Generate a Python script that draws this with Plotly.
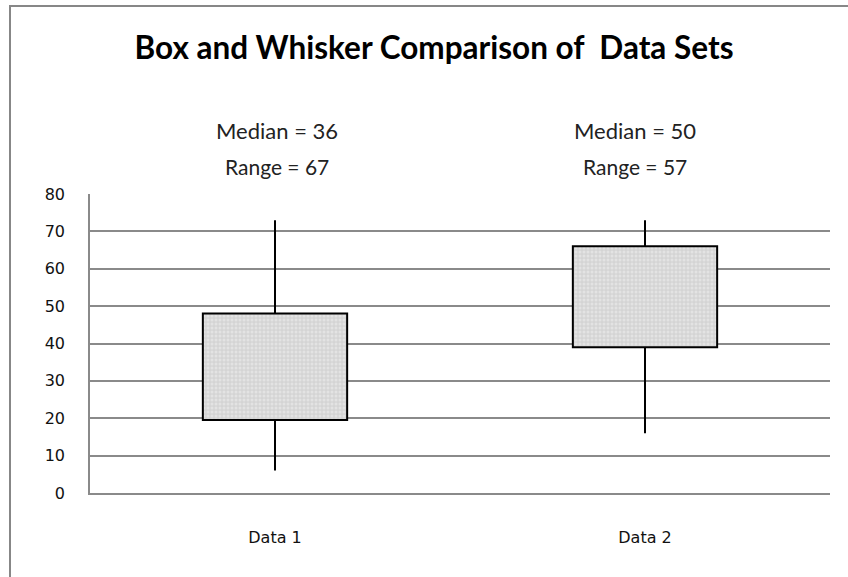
import plotly.graph_objects as go

categories = ["Data 1", "Data 2"]
mins = [6, 16]
q1s = [19.5, 39]
q3s = [48, 66]
maxs = [73, 73]
medians = [36, 50]
y_ticks = [0, 10, 20, 30, 40, 50, 60, 70, 80]

fig = go.Figure()

# boxes
fig.add_trace(go.Bar(
    x=categories,
    y=[q3 - q1 for q1, q3 in zip(q1s, q3s)],
    base=q1s,
    width=0.39,
    marker=dict(
        color="#d6d6d6",
        line=dict(color="black", width=2),
        pattern=dict(shape=".", fgcolor="#f2f2f2", bgcolor="#d4d4d4", size=4, solidity=0.45),
    ),
    showlegend=False,
    hoverinfo="skip",
))

# whiskers
wx, wy = [], []
for c, lo, a, b, hi in zip(categories, mins, q1s, q3s, maxs):
    wx += [c, c, None, c, c, None]
    wy += [lo, a, None, b, hi, None]
fig.add_trace(go.Scatter(
    x=wx, y=wy, mode="lines",
    line=dict(color="black", width=2),
    showlegend=False, hoverinfo="skip",
))

annotations = []
for c, m, lo, hi, dx in zip(categories, medians, mins, maxs, [2, -10]):
    annotations.append(dict(
        x=c, y=(493 - 131) / 299, xref="x", yref="paper", xshift=dx,
        yanchor="middle", xanchor="center",
        text=f"Median = {m}", showarrow=False,
        font=dict(family="Lato", size=22, color="#222222"),
    ))
    annotations.append(dict(
        x=c, y=(493 - 166) / 299, xref="x", yref="paper", xshift=dx,
        yanchor="middle", xanchor="center",
        text=f"Range = {hi - lo}", showarrow=False,
        font=dict(family="Lato", size=21, color="#222222"),
    ))

fig.update_layout(
    width=848, height=577,
    margin=dict(l=90, r=18, t=194, b=84),
    paper_bgcolor="white", plot_bgcolor="white",
    title=dict(
        text="<b>Box and Whisker Comparison of  Data Sets</b>",
        x=(434 - 90) / 740, xanchor="center", xref="paper",
        y=1 - 48 / 577, yanchor="middle",
        font=dict(family="Lato", size=31.5, color="black"),
    ),
    annotations=annotations,
    shapes=[dict(
        type="rect", xref="paper", yref="paper",
        x0=-80 / 740, x1=1.05, y0=-0.35, y1=(493 - 6) / 299,
        line=dict(color="#878787", width=2), fillcolor="rgba(0,0,0,0)",
        layer="below",
    )],
    bargap=0.61,
)

fig.update_xaxes(
    type="category",
    showline=True, linecolor="#8a8a8a", linewidth=1.5,
    showgrid=False, ticks="",
    ticklabelstandoff=29,
    tickfont=dict(family="DejaVu Sans", size=16, color="#111111"),
)
fig.update_yaxes(
    range=[0, 80], tickvals=y_ticks,
    showgrid=True, gridcolor="#8a8a8a", gridwidth=1.5,
    zeroline=False,
    showline=True, linecolor="#8a8a8a", linewidth=1.5,
    ticks="", ticklabelstandoff=20,
    tickfont=dict(family="DejaVu Sans", size=16, color="#111111"),
)

fig.write_html("out.html", config={"displayModeBar": False},
               post_script="document.body.style.margin='0';")
